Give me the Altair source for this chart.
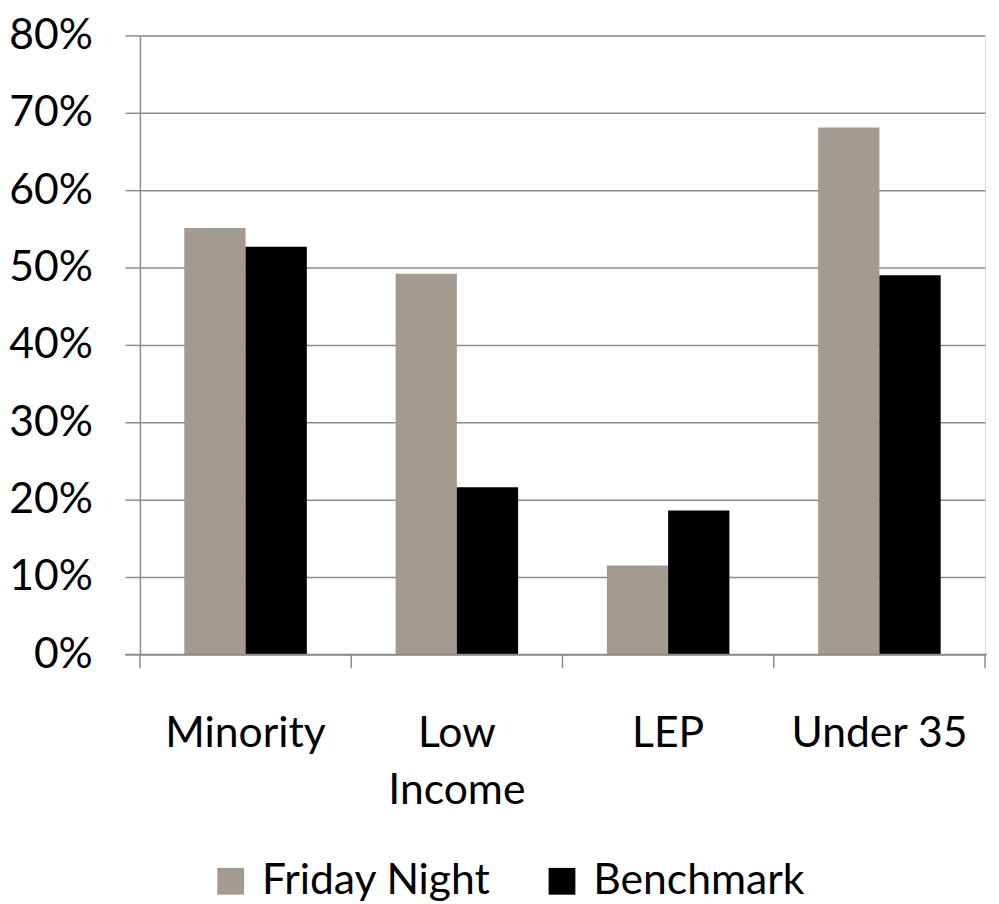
import altair as alt
import pandas as pd

categories = ["Minority", "Low Income", "LEP", "Under 35"]
friday_night = [0.551, 0.492, 0.115, 0.681]
benchmark = [0.527, 0.216, 0.186, 0.490]
series_names = ["Friday Night", "Benchmark"]
series_colors = ["#a39a90", "#000000"]

rows = []
for c, f, b in zip(categories, friday_night, benchmark):
    rows.append({"cat": c, "series": "Friday Night", "value": f})
    rows.append({"cat": c, "series": "Benchmark", "value": b})
df = pd.DataFrame(rows)
cat_df = pd.DataFrame({"cat": categories})

W, H = 852, 624
FONT = "Lato"
FS = 43
GREY = "#8c8c8c"
STEP = W / len(categories)
PAD_IN = 0.42

xscale = alt.Scale(domain=categories, paddingInner=PAD_IN, paddingOuter=PAD_IN / 2)

bars = alt.Chart(df).mark_bar().encode(
    x=alt.X("cat:N", scale=xscale, sort=categories, title=None,
            axis=alt.Axis(ticks=False, domain=False, labelAngle=0,
                          labelFont=FONT, labelFontSize=FS, labelColor="#000",
                          labelPadding=59, labelLineHeight=57,
                          labelExpr="datum.label == 'Low Income' ? ['Low', 'Income'] : datum.label")),
    xOffset=alt.XOffset("series:N", sort=series_names, scale=alt.Scale(domain=series_names)),
    y=alt.Y("value:Q", scale=alt.Scale(domain=[0, 0.8], nice=False),
            title=None,
            axis=alt.Axis(format="%", values=[0, 0.1, 0.2, 0.3, 0.4, 0.5, 0.6, 0.7, 0.8],
                          tickSize=15, tickColor=GREY, tickWidth=1.5,
                          grid=True, gridColor=GREY, gridWidth=1.5,
                          domainColor=GREY, domainWidth=1.5,
                          labelFont=FONT, labelFontSize=FS, labelColor="#000",
                          labelPadding=33)),
    color=alt.Color("series:N", sort=series_names,
                    scale=alt.Scale(domain=series_names, range=series_colors),
                    legend=alt.Legend(title=None, orient="none", direction="horizontal",
                                      legendX=70, legendY=831,
                                      symbolType="square", symbolSize=729,
                                      symbolStrokeWidth=0, labelLimit=0,
                                      labelFont=FONT, labelFontSize=FS, labelColor="#000",
                                      columnPadding=50, labelOffset=10)),
)

ticks = alt.Chart(cat_df).mark_rule(color=GREY, strokeWidth=1.5,
                                    xOffset=-STEP * PAD_IN / 2).encode(
    x=alt.X("cat:N", scale=xscale, sort=categories, bandPosition=0),
    y=alt.value(H),
    y2=alt.value(H + 14),
)
end_tick = alt.Chart(cat_df.head(1)).mark_rule(color=GREY, strokeWidth=1.5).encode(
    x=alt.value(W),
    y=alt.value(H),
    y2=alt.value(H + 14),
)
baseline = alt.Chart(cat_df.head(1)).mark_rule(color=GREY, strokeWidth=1.5).encode(
    x=alt.value(-15),
    x2=alt.value(W + 2),
    y=alt.value(H),
)

chart = alt.layer(bars, ticks, end_tick, baseline).properties(
    width=W, height=H,
    autosize=alt.AutoSizeParams(type="none"),
    padding={"left": 133, "top": 24, "right": 6, "bottom": 248},
).configure_view(stroke=None).configure(background="white")

chart.save("out.html", embed_options={"renderer": "svg", "actions": False})
